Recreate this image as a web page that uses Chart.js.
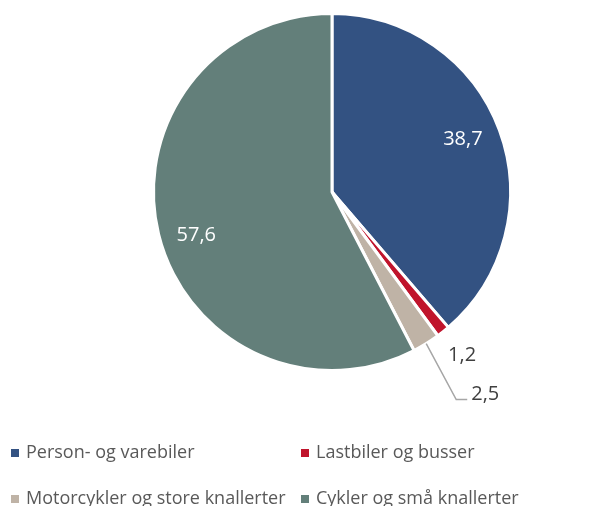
<!DOCTYPE html>
<html><head><meta charset="utf-8">
<script src="https://cdn.jsdelivr.net/npm/chart.js@4/dist/chart.umd.min.js"></script>
<style>html,body{margin:0;padding:0;background:#fff;}#wrap{width:598px;height:506px;position:relative;}</style>
</head><body><div id="wrap"><canvas id="c" width="598" height="506"></canvas></div>
<script>
const categories = ['Person- og varebiler', 'Lastbiler og busser', 'Motorcykler og store knallerter', 'Cykler og små knallerter'];
const values = [38.7, 1.2, 2.5, 57.6];
const valueLabels = ['38,7', '1,2', '2,5', '57,6'];
const colors = ['#335282', '#C0142C', '#BFB3A6', '#637F7A'];

const FONT = '"Open Sans", "Noto Sans", sans-serif';

const labelPlugin = {
  id: 'labels',
  afterDatasetsDraw(chart) {
    const ctx = chart.ctx;
    const meta = chart.getDatasetMeta(0);
    ctx.save();
    ctx.font = '20px ' + FONT;
    ctx.textBaseline = 'middle';
    meta.data.forEach((arc, i) => {
      const p = arc.getProps(['x','y','startAngle','endAngle','outerRadius']);
      const mid = (p.startAngle + p.endAngle) / 2;
      const R = p.outerRadius;
      if (i === 0) {
        ctx.fillStyle = '#ffffff';
        ctx.textAlign = 'center';
        ctx.fillText(valueLabels[i], p.x + Math.cos(mid) * R * 0.8 - 3, p.y + Math.sin(mid) * R * 0.8 - 3);
      } else if (i === 3) {
        ctx.fillStyle = '#ffffff';
        ctx.textAlign = 'center';
        ctx.fillText(valueLabels[i], p.x + Math.cos(mid) * R * 0.8 + 3, p.y + Math.sin(mid) * R * 0.8 + 10);
      } else if (i === 1) {
        ctx.fillStyle = '#404040';
        ctx.textAlign = 'center';
        ctx.fillText(valueLabels[i], p.x + Math.cos(mid) * R * 1.17, p.y + Math.sin(mid) * R * 1.17);
      } else {
        const sx = p.x + Math.cos(mid) * R, sy = p.y + Math.sin(mid) * R;
        const ex = sx + 30, ey = sy + 56;
        ctx.strokeStyle = '#A6A6A6';
        ctx.lineWidth = 1.5;
        ctx.beginPath();
        ctx.moveTo(sx, sy); ctx.lineTo(ex, ey); ctx.lineTo(ex + 11, ey);
        ctx.stroke();
        ctx.fillStyle = '#404040';
        ctx.textAlign = 'left';
        ctx.fillText(valueLabels[i], ex + 15, ey - 5);
      }
    });
    ctx.restore();
  }
};

const legendPlugin = {
  id: 'customLegend',
  afterDraw(chart) {
    const ctx = chart.ctx;
    const pos = [[11, 458], [301, 458], [11, 504], [301, 504]];
    ctx.save();
    ctx.font = '18px ' + FONT;
    ctx.textBaseline = 'alphabetic';
    ctx.textAlign = 'left';
    categories.forEach((c, i) => {
      const [x, y] = pos[i];
      ctx.fillStyle = colors[i];
      ctx.fillRect(x, y - 9, 8, 8);
      ctx.fillStyle = '#595959';
      ctx.fillText(c, x + 15, y);
    });
    ctx.restore();
  }
};

new Chart(document.getElementById('c'), {
  type: 'pie',
  data: {
    labels: categories,
    datasets: [{
      data: values,
      backgroundColor: colors,
      borderColor: '#ffffff',
      borderWidth: 3,
      hoverOffset: 0
    }]
  },
  options: {
    responsive: false,
    animation: false,
    layout: { padding: { left: 152, right: 86, top: 12, bottom: 134 } },
    plugins: { legend: { display: false }, tooltip: { enabled: false } }
  },
  plugins: [labelPlugin, legendPlugin]
});
</script>
</body></html>
